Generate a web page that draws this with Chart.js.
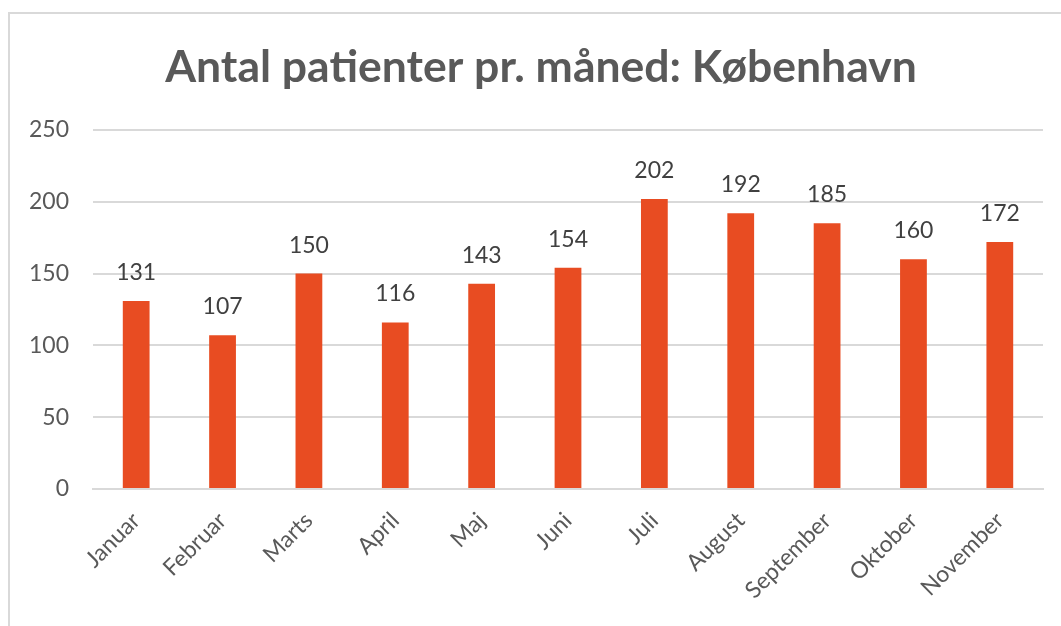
<!DOCTYPE html>
<html>
<head>
<meta charset="utf-8">
<script src="https://cdn.jsdelivr.net/npm/chart.js@4/dist/chart.umd.min.js"></script>
<style>
  html, body { margin: 0; padding: 0; background: #fff; }
  #wrap { width: 1061px; height: 626px; position: relative; }
</style>
</head>
<body>
<div id="wrap"><canvas id="data-chart"></canvas></div>
<script>
// Dati
var titel = 'Antal patienter pr. måned: København';
var maaneder = ["Januar","Februar","Marts","April","Maj","Juni","Juli","August","September","Oktober","November"];
var patienter = [131, 107, 150, 116, 143, 154, 202, 192, 185, 160, 172];
var yTicks = [0, 50, 100, 150, 200, 250];

var grey = '#595959';

// ramme rundt om diagrammet (beskaaret i hoejre/bund side) + titel
var rammePlugin = {
	id: 'ramme',
	beforeDraw: function(chart){
		var ctx = chart.ctx;
		ctx.save();
		ctx.strokeStyle = '#d9d9d9';
		ctx.lineWidth = 2;
		ctx.beginPath();
		ctx.moveTo(9, chart.height);
		ctx.lineTo(9, 13);
		ctx.lineTo(chart.width, 13);
		ctx.stroke();

		ctx.font = 'bold 44.5px Lato';
		ctx.fillStyle = grey;
		ctx.textAlign = 'center';
		ctx.textBaseline = 'alphabetic';
		ctx.fillText(titel, 541, 82);
		ctx.restore();
	}
};

// tal over soejlerne
var labelPlugin = {
	id: 'barLabels',
	afterDatasetsDraw: function(chart){
		var ctx = chart.ctx;
		var meta = chart.getDatasetMeta(0);
		ctx.save();
		ctx.font = '23px Lato';
		ctx.fillStyle = '#404040';
		ctx.textAlign = 'center';
		ctx.textBaseline = 'bottom';
		meta.data.forEach(function(bar, i){
			ctx.fillText(chart.data.datasets[0].data[i], bar.x, bar.y - 17);
		});
		ctx.restore();
	}
};

var ctx = document.getElementById('data-chart').getContext('2d');
var myChart = new Chart(ctx, {
	type: 'bar',
	data: {
		labels: maaneder,
		datasets: [{
			label: 'Antal patienter',
			backgroundColor: '#E84C22',
			borderWidth: 0,
			data: patienter,
			categoryPercentage: 1,
			barPercentage: 0.31
		}]
	},
	options: {
		responsive: true,
		maintainAspectRatio: false,
		animation: false,
		layout: { padding: { left: 0, right: 18, top: 130, bottom: 0 } },
		plugins: {
			legend: { display: false },
			tooltip: { enabled: false },
			title: { display: false }
		},
		scales: {
			x: {
				grid: { display: false },
				border: { color: '#d9d9d9', width: 2 },
				ticks: {
					color: grey,
					font: { family: 'Lato', size: 23 },
					minRotation: 45,
					maxRotation: 45,
					padding: 10,
					autoSkip: false
				},
				afterFit: function(scale){ scale.height = 137; }
			},
			y: {
				min: 0,
				max: 250,
				afterBuildTicks: function(scale){
					scale.ticks = yTicks.map(function(v){ return { value: v }; });
				},
				grid: { color: '#d9d9d9', lineWidth: 2, drawTicks: false },
				border: { display: false },
				ticks: {
					color: grey,
					font: { family: 'Lato', size: 23 },
					padding: 24
				},
				afterFit: function(scale){ scale.width = 93; }
			}
		}
	},
	plugins: [rammePlugin, labelPlugin]
});
</script>
</body>
</html>
